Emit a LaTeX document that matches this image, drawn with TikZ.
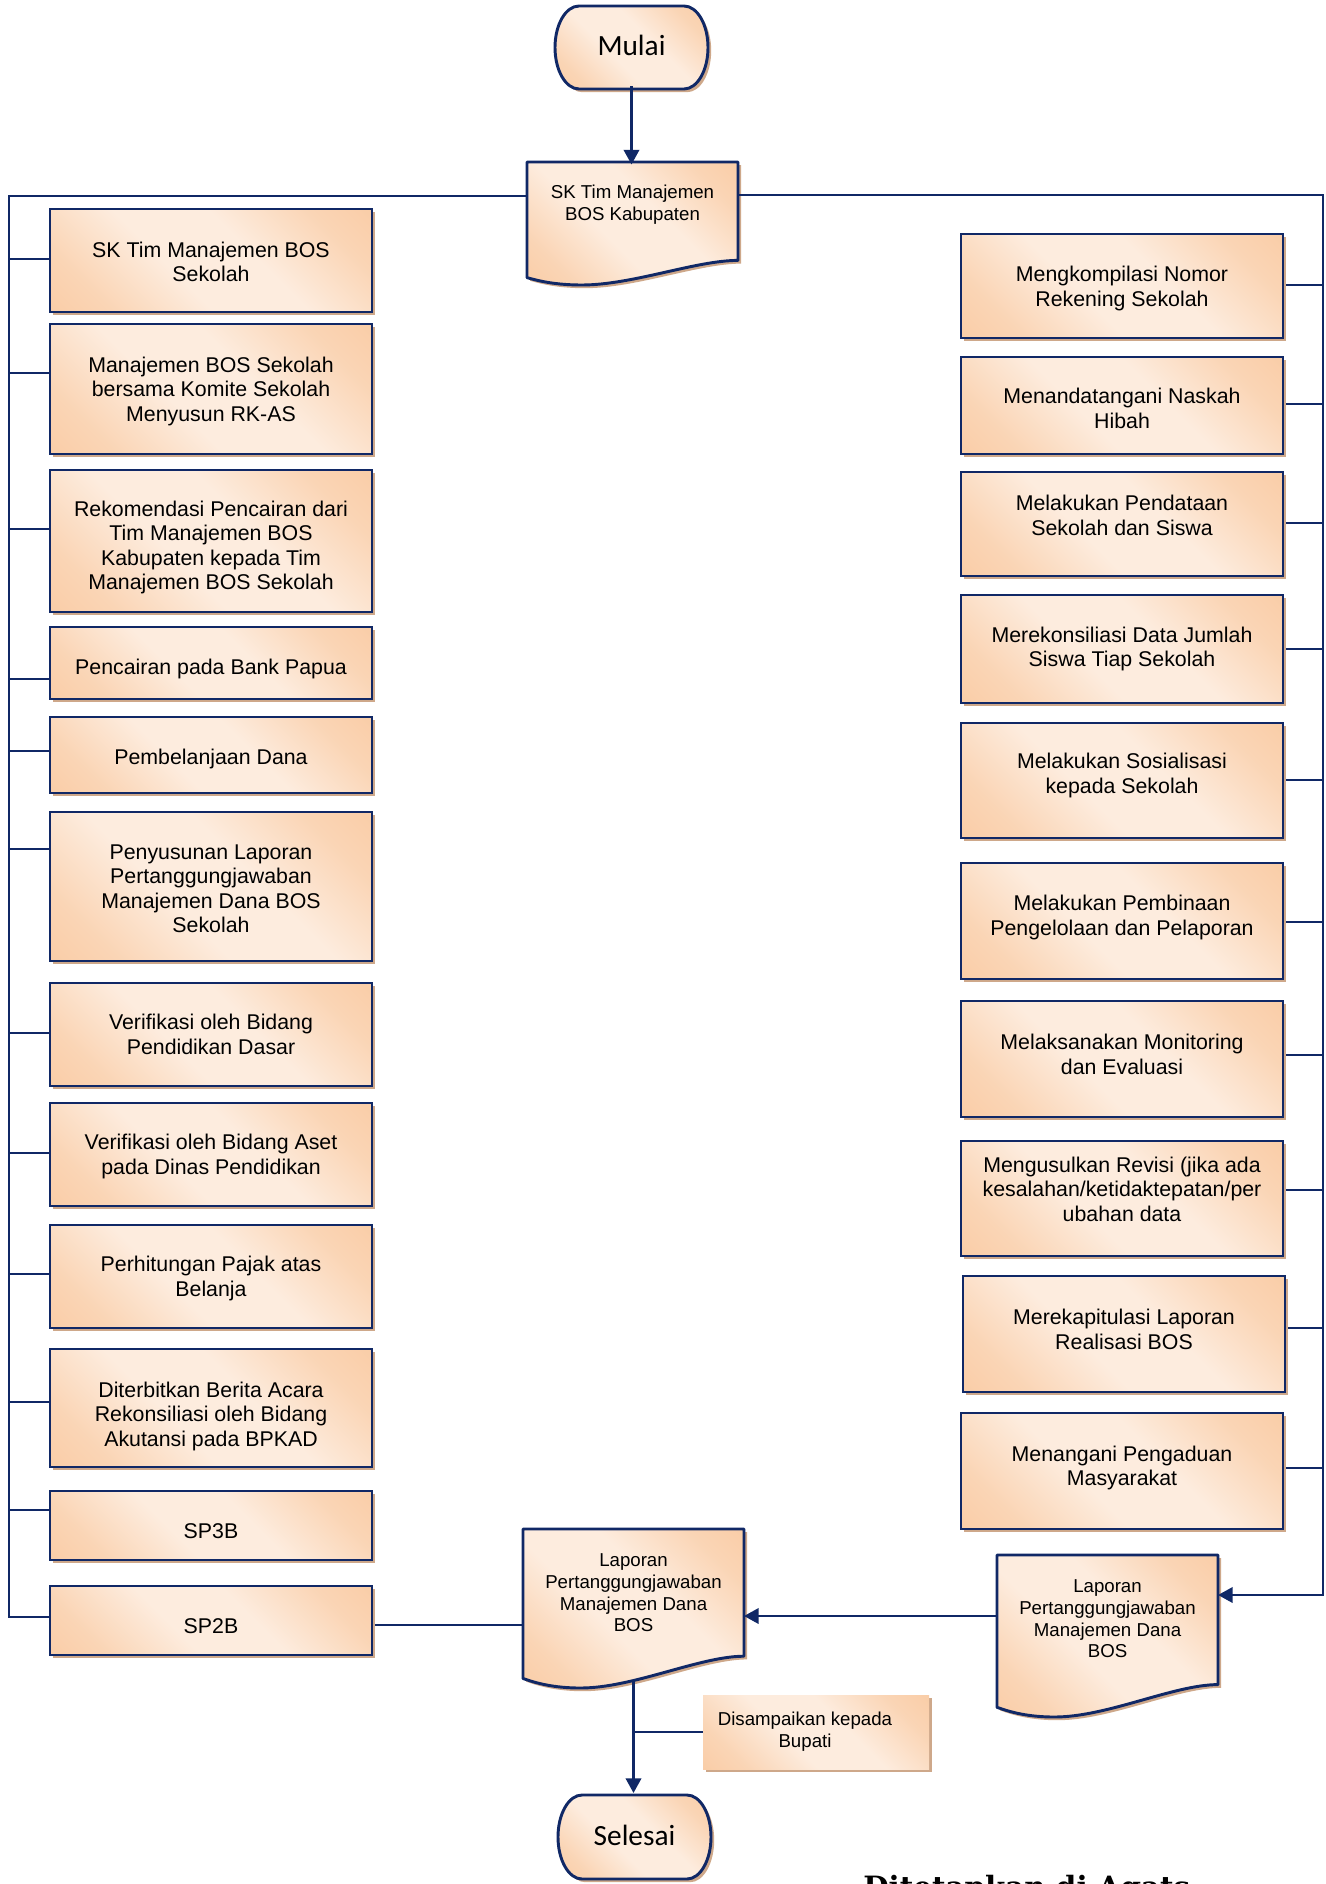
\documentclass[tikz,border=0pt]{standalone}
\usepackage{fontspec}
\setmainfont{Liberation Sans}
\newfontfamily\calfont{Carlito}
\newfontfamily\serfont{DejaVu Serif}
\usetikzlibrary{shadows,arrows.meta,calc}
\pgfdeclarelayer{back}
\pgfsetlayers{back,main}

\definecolor{navy}{RGB}{16,40,102}
\definecolor{orc}{RGB}{248,194,148}
\definecolor{ltc}{RGB}{253,236,222}
\definecolor{shc}{RGB}{206,168,138}
\colorlet{midc}{orc!55!ltc}

\pgfdeclareverticalshading{boxshade}{100bp}{color(0bp)=(orc); color(25bp)=(midc); color(42bp)=(ltc); color(58bp)=(ltc); color(75bp)=(midc); color(100bp)=(orc)}

\tikzset{
  filllook/.style={shade, shading=boxshade, shading angle=-45},
  shad/.style={drop shadow={shadow xshift=2.4pt, shadow yshift=-2.4pt, opacity=1, fill=shc}},
  pbox/.style={rectangle, draw=navy, line width=2.2pt, filllook, shad,
    inner sep=0pt, outer sep=0pt},
  boxtext/.style={rectangle, draw=none, align=center, inner sep=0pt, outer sep=0pt,
    font=\fontsize{16}{18.4}\selectfont},
  plainbox/.style={rectangle, draw=none, filllook, shad, align=center,
    inner sep=0pt, outer sep=0pt, font=\fontsize{14}{16.4}\selectfont},
  doctext/.style={rectangle, draw=none, align=center, inner sep=0pt, outer sep=0pt,
    font=\fontsize{14}{16.2}\selectfont},
  termtext/.style={rectangle, draw=none, inner sep=0pt, outer sep=0pt,
    font=\calfont\fontsize{22}{26}\selectfont},
  outline/.style={draw=navy, line width=2.2pt, filllook, shad, line join=round},
  conn/.style={draw=navy, line width=2pt},
  arr/.style={conn, -{Triangle[length=11pt, width=11.5pt]}},
}

% name, x1, y1, x2, y2, text shift (px, down), text
\newcommand\mybox[7]{\node[pbox, minimum width={(#4-#2)*0.75pt}, minimum height={(#5-#3)*0.75pt}] (#1) at ({(#2+#4)/2},{(#3+#5)/2}) {};
  \node[boxtext] (#1-t) at ([yshift={-(#6)*0.75pt}]#1.center) {#7};}
% x1, top, x2, full height
\newcommand\docshape[4]{\path[outline] (#1,#2) -- (#3,#2) -- (#3,{#2+0.8*#4})
  .. controls ({#1+0.8*(#3-#1)},{#2+0.8*#4}) and ({#1+0.5*(#3-#1)},{#2+#4}) .. ({#1+0.26*(#3-#1)},{#2+#4})
  .. controls ({#1+0.14*(#3-#1)},{#2+#4}) and ({#1+0.06*(#3-#1)},{#2+0.97*#4}) .. (#1,{#2+0.94*#4}) -- cycle;}
% x1, y1, x2, y2
\newcommand\termshape[4]{\path[outline] ({#1+24},#2) -- ({#3-24},#2)
  arc[start angle=90, end angle=-90, x radius=18pt, y radius={(#4-#2)*0.375pt}]
  -- ({#1+24},#4)
  arc[start angle=270, end angle=90, x radius=18pt, y radius={(#4-#2)*0.375pt}] -- cycle;}

\begin{document}
\begin{tikzpicture}[x=0.75pt, y=-0.75pt]
\useasboundingbox (0,0) rectangle (1326,1884);

% ---------- outlined shapes ----------
\termshape{555}{6}{708}{89}
\termshape{558}{1795}{711}{1879}
\docshape{527}{162}{738}{123}
\docshape{523}{1529}{744}{159}
\docshape{997}{1555}{1218}{162}

% ---------- text nodes of outlined shapes ----------
\node[termtext, minimum width=114.75pt, minimum height=62.25pt] (mulai) at (631.5,45) {Mulai};
\node[termtext, minimum width=114.75pt, minimum height=63pt] (sel) at (634.5,1835) {Selesai};
\node[doctext, minimum width=158.25pt, minimum height=60pt] (sk) at (632.5,204.5) {SK Tim Manajemen\\BOS Kabupaten};
\node[doctext, minimum width=165.75pt, minimum height=93pt] (ldoc) at (633.5,1593) {Laporan\\Pertanggungjawaban\\Manajemen Dana\\BOS};
\node[doctext, minimum width=165.75pt, minimum height=93pt] (rdoc) at (1107.5,1619) {Laporan\\Pertanggungjawaban\\Manajemen Dana\\BOS};

% ---------- left column ----------
\mybox{L1}{50}{209}{372}{312}{1.2}{SK Tim Manajemen BOS\\Sekolah}
\mybox{L2}{50}{324}{372}{454}{2.4}{Manajemen BOS Sekolah\\bersama Komite Sekolah\\Menyusun RK-AS}
\mybox{L3}{50}{470}{372}{612}{6.6}{Rekomendasi Pencairan dari\\Tim Manajemen BOS\\Kabupaten kepada Tim\\Manajemen BOS Sekolah}
\mybox{L4}{50}{627}{372}{699}{6}{Pencairan pada Bank Papua}
\mybox{L5}{50}{717}{372}{793}{3.6}{Pembelanjaan Dana}
\mybox{L6}{50}{812}{372}{961}{2.4}{Penyusunan Laporan\\Pertanggungjawaban\\Manajemen Dana BOS\\Sekolah}
\mybox{L7}{50}{983}{372}{1086}{0}{Verifikasi oleh Bidang\\Pendidikan Dasar}
\mybox{L8}{50}{1103}{372}{1206}{2}{Verifikasi oleh Bidang Aset\\pada Dinas Pendidikan}
\mybox{L9}{50}{1225}{372}{1328}{2}{Perhitungan Pajak atas\\Belanja}
\mybox{L10}{50}{1349}{372}{1467}{8.4}{Diterbitkan Berita Acara\\Rekonsiliasi oleh Bidang\\Akutansi pada BPKAD}
\mybox{L11}{50}{1491}{372}{1560}{6}{SP3B}
\mybox{L12}{50}{1586}{372}{1655}{6}{SP2B}

% ---------- right column ----------
\mybox{R1}{961}{234}{1283}{338}{2.4}{Mengkompilasi Nomor\\Rekening Sekolah}
\mybox{R2}{961}{357}{1283}{454}{3}{Menandatangani Naskah\\Hibah}
\mybox{R3}{961}{472}{1283}{576}{-8.4}{Melakukan Pendataan\\Sekolah dan Siswa}
\mybox{R4}{961}{595}{1283}{703}{0}{Merekonsiliasi Data Jumlah\\Siswa Tiap Sekolah}
\mybox{R5}{961}{723}{1283}{838}{-4.8}{Melakukan Sosialisasi\\kepada Sekolah}
\mybox{R6}{961}{863}{1283}{979}{-3.6}{Melakukan Pembinaan\\Pengelolaan dan Pelaporan}
\mybox{R7}{961}{1001}{1283}{1117}{-4.8}{Melaksanakan Monitoring\\dan Evaluasi}
\mybox{R8}{961}{1141}{1283}{1256}{-9.6}{Mengusulkan Revisi (jika ada\\kesalahan/ketidaktepatan/per\\ubahan data}
\mybox{R9}{963}{1276}{1285}{1392}{-4.8}{Merekapitulasi Laporan\\Realisasi BOS}
\mybox{R10}{961}{1413}{1283}{1529}{-3}{Menangani Pengaduan\\Masyarakat}

% ---------- note box ----------
\node[plainbox, minimum width=169.5pt, minimum height=55.5pt] (dis) at (816,1732) {\hspace*{-16.5pt}Disampaikan kepada\\\hspace*{-16.5pt}Bupati};

% ---------- cut-off footer text ----------
\node[anchor=base west, inner sep=0pt, font=\serfont\bfseries\fontsize{22}{26}\selectfont] (tetap) at (863,1897) {Ditetapkan di Agats};

% ---------- connectors ----------
\coordinate (lt) at (9,196);
\coordinate (lb) at (9,1617);
\coordinate (rt) at (1323,195);
\coordinate (rb) at (1323,1595);

\begin{pgfonlayer}{back}
\draw[conn] (sk.west |- lt) -- (lt) -- (lb) -- (L12.west |- lb);
\foreach \n/\yy in {L1/259, L2/373, L3/529, L4/679, L5/751, L6/849, L7/1033, L8/1153, L9/1274, L10/1402, L11/1510}
  \draw[conn] (lt |- 0,\yy) -- (\n.west |- 0,\yy);
\foreach \n/\yy in {R1/285, R2/404, R3/523, R4/649, R5/780, R6/922, R7/1055, R8/1190, R9/1328, R10/1468}
  \draw[conn] (\n.east |- 0,\yy) -- (rt |- 0,\yy);
\draw[conn] (L12.east |- 0,1625) -- (ldoc.west |- 0,1625);
\draw[conn] (ldoc.south |- dis.west) -- (dis.west);
\end{pgfonlayer}

\draw[arr] (sk.east |- rt) -- (rt) -- (rb) -- (rdoc.east |- rb);
\draw[arr] (rdoc.west |- 0,1616) -- (ldoc.east |- 0,1616);
\draw[arr] (mulai.south) -- (mulai.south |- sk.north);
\draw[arr, shorten <=19pt] (ldoc.south) -- (ldoc.south |- sel.north);
\end{tikzpicture}
\end{document}
